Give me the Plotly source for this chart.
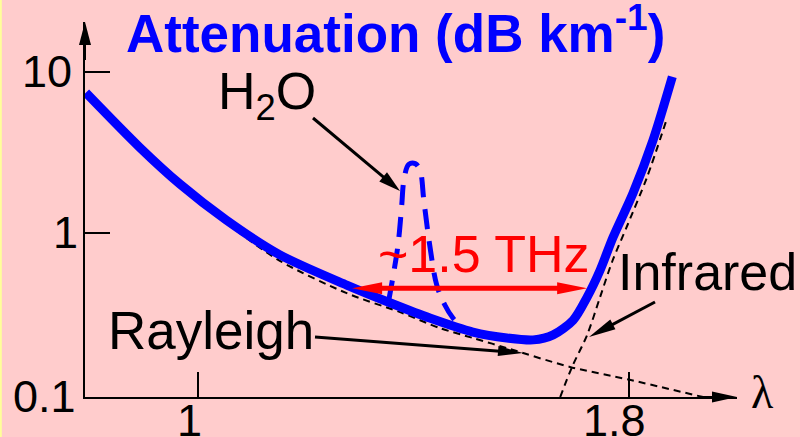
import plotly.graph_objects as go
import numpy as np

W, H = 800, 437

# ---------------- data ----------------
atten_wl = [0.792, 0.892, 0.967, 1.052, 1.152, 1.276, 1.362, 1.430, 1.510, 1.573,
            1.622, 1.659, 1.696, 1.722, 1.746, 1.770, 1.807, 1.844, 1.880]
atten_db = [7.42, 3.40, 2.01, 1.21, 0.735, 0.478, 0.365, 0.299, 0.245, 0.225,
            0.219, 0.235, 0.290, 0.403, 0.591, 0.945, 1.77, 3.75, 9.3]

rayleigh_wl = [0.967, 1.052, 1.152, 1.276, 1.375, 1.449, 1.510, 1.573, 1.690, 1.801, 1.937]
rayleigh_db = [1.93, 1.16, 0.675, 0.426, 0.325, 0.259, 0.225, 0.195, 0.149, 0.124, 0.097]

infrared_wl = [1.672, 1.694, 1.722, 1.746, 1.768, 1.798, 1.833, 1.870]
infrared_db = [0.097, 0.149, 0.235, 0.403, 0.662, 1.15, 2.22, 5.13]

h2o_wl = [1.354, 1.360, 1.371, 1.378, 1.382, 1.391, 1.403, 1.412, 1.419, 1.430,
          1.443, 1.458, 1.473, 1.486]
h2o_db = [0.386, 0.498, 0.843, 1.49, 2.12, 2.67, 2.70, 2.45, 1.60, 0.843,
          0.478, 0.360, 0.299, 0.270]

x_tick_vals = [1, 1.8]
x_tick_text = ["1", "1.8"]
y_tick_vals = [10, 1, 0.1]
y_tick_text = ["10", "1", "0.1"]

band_wl = [1.286, 1.722]      # ~1.5 THz window
band_level = 0.457

# ---------------- geometry ----------------
X_RANGE = [0.7904, 2.0]
Y_RANGE = [-1.013, 1.3075]
X_DOM = [85 / W, 737 / W]
Y_DOM = [(H - 397) / H, (H - 22) / H]

FONT = "Liberation Sans, Arial, sans-serif"
BLUE = "#0000FF"
RED = "#FF0000"
BG = "#FFCCCC"


def data_to_px(x, y):
    fx = (x - X_RANGE[0]) / (X_RANGE[1] - X_RANGE[0])
    px = (X_DOM[0] + fx * (X_DOM[1] - X_DOM[0])) * W
    fy = (np.log10(y) - Y_RANGE[0]) / (Y_RANGE[1] - Y_RANGE[0])
    py = H - (Y_DOM[0] + fy * (Y_DOM[1] - Y_DOM[0])) * H
    return px, py


shapes = []
annotations = []


def pp(px, py):
    return px / W, 1 - py / H


def arrow(x0, y0, x1, y1, color, width, L, hw, both=False):
    dx, dy = x1 - x0, y1 - y0
    d = (dx * dx + dy * dy) ** 0.5
    ux, uy = dx / d, dy / d
    nx, ny = -uy, ux

    def head(tx, ty, vx, vy):
        bx, by = tx - vx * L, ty - vy * L
        pts = [(tx, ty), (bx + nx * hw, by + ny * hw), (bx - nx * hw, by - ny * hw)]
        path = "M " + " L ".join(f"{p[0] / W:.5f},{1 - p[1] / H:.5f}" for p in pts) + " Z"
        shapes.append(dict(type="path", path=path, xref="paper", yref="paper",
                           fillcolor=color, line=dict(width=0), layer="above"))

    sx, sy = (x0 + ux * L * 0.8, y0 + uy * L * 0.8) if both else (x0, y0)
    ex, ey = x1 - ux * L * 0.8, y1 - uy * L * 0.8
    a, b = pp(sx, sy)
    c, e = pp(ex, ey)
    shapes.append(dict(type="line", xref="paper", yref="paper", x0=a, y0=b, x1=c, y1=e,
                       line=dict(color=color, width=width), layer="above"))
    head(x1, y1, ux, uy)
    if both:
        head(x0, y0, -ux, -uy)


def text(px, py, s, size, color="black", xanchor="center", family=FONT):
    x, y = pp(px, py)
    annotations.append(dict(x=x, y=y, xref="paper", yref="paper", text=s, showarrow=False,
                            xanchor=xanchor, yanchor="middle",
                            font=dict(family=family, size=size, color=color)))


fig = go.Figure()

fig.add_trace(go.Scatter(x=rayleigh_wl, y=rayleigh_db, mode="lines",
                         line=dict(color="black", width=2, dash="7px,5px", shape="spline", smoothing=0.8),
                         hoverinfo="skip"))
fig.add_trace(go.Scatter(x=infrared_wl, y=infrared_db, mode="lines",
                         line=dict(color="black", width=2, dash="7px,5px", shape="spline", smoothing=0.8),
                         hoverinfo="skip"))
fig.add_trace(go.Scatter(x=h2o_wl, y=h2o_db, mode="lines",
                         line=dict(color=BLUE, width=5, dash="20px,12px", shape="spline"),
                         hoverinfo="skip"))
fig.add_trace(go.Scatter(x=atten_wl, y=atten_db, mode="lines",
                         line=dict(color=BLUE, width=9, shape="spline", smoothing=0.8),
                         hoverinfo="skip"))

# axis arrows
arrow(85, 60, 85, 22, "black", 2, 23, 6)
arrow(700, 397, 737, 397, "black", 2, 25, 5.5)

# red ~1.5 THz double arrow
bx0, by0 = data_to_px(band_wl[0], band_level)
bx1, by1 = data_to_px(band_wl[1], band_level)
arrow(bx0, by0, bx1, by1, RED, 5, 30, 6, both=True)

# label arrows
arrow(313, 118, 400, 191, "black", 3, 22, 6)
arrow(315, 337, 523, 353, "black", 3, 25, 5)
arrow(655, 302, 589, 337, "black", 3, 27, 5.5)

# left border line
shapes.append(dict(type="line", xref="paper", yref="paper", x0=0.001, x1=0.001, y0=0, y1=1,
                   line=dict(color="#FFFF99", width=2), layer="above"))

# texts
text(395, 29, "<b>Attenuation (dB km<sup>-1</sup>)</b>", 53, BLUE)
text(267, 95, "H<sub>2</sub>O", 52)
text(483, 254, "~1.5 THz", 52, RED)
text(211, 330, "Rayleigh", 53)
text(707, 272, "Infrared", 52)
text(762, 392, "λ", 46, family="Liberation Serif, Times New Roman, serif")

# tick labels
y_label_px = {"10": (74, 71.7), "1": (80, 233), "0.1": (78, 396.5)}
for v, s in zip(y_tick_vals, y_tick_text):
    px, py = y_label_px[s]
    text(px, py, s, 45, xanchor="right")
x_label_px = {"1": 189, "1.8": 614}
for v, s in zip(x_tick_vals, x_tick_text):
    text(x_label_px[s], 420, s, 45)

fig.update_layout(
    width=W, height=H,
    margin=dict(l=0, r=0, t=0, b=0),
    paper_bgcolor=BG, plot_bgcolor=BG,
    showlegend=False,
    hovermode=False,
    shapes=shapes,
    annotations=annotations,
    xaxis=dict(domain=X_DOM, range=X_RANGE, showgrid=False, zeroline=False,
               showline=True, linecolor="black", linewidth=2,
               ticks="inside", ticklen=25, tickwidth=2, tickcolor="black",
               tickvals=x_tick_vals, showticklabels=False),
    yaxis=dict(domain=Y_DOM, type="log", range=Y_RANGE, showgrid=False, zeroline=False,
               showline=True, linecolor="black", linewidth=2,
               ticks="inside", ticklen=25, tickwidth=2, tickcolor="black",
               tickvals=[1, 10], showticklabels=False),
)

fig.write_html("out.html", config={"displayModeBar": False, "staticPlot": True},
               post_script="document.body.style.margin='0';document.body.style.overflow='hidden';")
